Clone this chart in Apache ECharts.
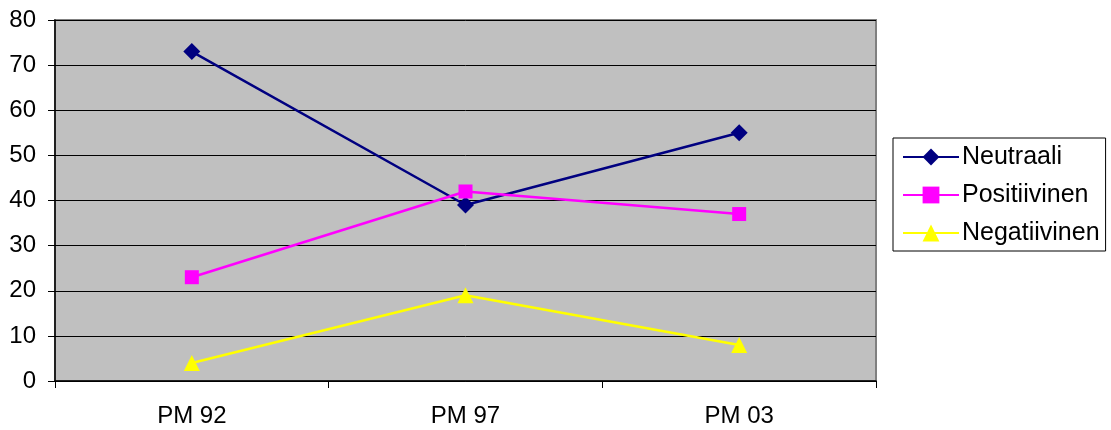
<!DOCTYPE html>
<html>
<head>
<meta charset="utf-8">
<script src="https://cdn.jsdelivr.net/npm/echarts@6/dist/echarts.min.js"></script>
<style>
  html, body { margin: 0; padding: 0; background: #fff; }
  #chart { width: 1111px; height: 430px; }
</style>
</head>
<body>
<div id="chart"></div>
<script>
// Survey periods on the x axis
const categories = ['PM 92', 'PM 97', 'PM 03'];
// Share of each tone per period
const neutraali = [73, 39, 55];
const positiivinen = [23, 42, 37];
const negatiivinen = [4, 19, 8];

const font = 'Arial, "Liberation Sans", sans-serif';

const chart = echarts.init(document.getElementById('chart'), null, { renderer: 'canvas' });

function lineSeries(name, data, color, symbol, size) {
  return {
    name: name,
    type: 'line',
    data: data,
    symbol: symbol,
    symbolSize: size,
    lineStyle: { color: color, width: 2.5 },
    itemStyle: { color: color },
    emphasis: { disabled: true },
    animation: false
  };
}

chart.setOption({
  animation: false,
  backgroundColor: '#ffffff',
  grid: {
    left: 55, top: 20, right: 235, bottom: 49,
    show: true,
    backgroundColor: '#c0c0c0',
    borderColor: '#808080',
    borderWidth: 2
  },
  xAxis: {
    type: 'category',
    data: categories,
    boundaryGap: true,
    axisLine: { lineStyle: { color: '#000', width: 1.5 } },
    axisTick: { show: true, length: 7, lineStyle: { color: '#000' } },
    axisLabel: { color: '#000', fontSize: 24, fontFamily: font, margin: 23 }
  },
  yAxis: {
    type: 'value',
    min: 0, max: 80, interval: 10,
    axisLine: { show: true, lineStyle: { color: '#000', width: 1.5 } },
    axisTick: { show: true, length: 7, lineStyle: { color: '#000' } },
    axisLabel: { color: '#000', fontSize: 24, fontFamily: font, margin: 19 },
    splitLine: { show: true, lineStyle: { color: '#000', width: 1 } }
  },
  legend: {
    orient: 'vertical',
    left: 893, top: 138,
    padding: [6, 6, 5, 9],
    borderColor: '#000',
    borderWidth: 1,
    backgroundColor: '#fff',
    itemWidth: 56,
    itemHeight: 21,
    itemGap: 12,
    textStyle: { color: '#000', fontSize: 25, fontFamily: font, lineHeight: 26, padding: [0, 0, 0, -2] },
    data: ['Neutraali', 'Positiivinen', 'Negatiivinen']
  },
  series: [
    lineSeries('Neutraali', neutraali, '#000080', 'diamond', 17),
    lineSeries('Positiivinen', positiivinen, '#ff00ff', 'rect', 14),
    lineSeries('Negatiivinen', negatiivinen, '#ffff00', 'triangle', 16)
  ]
});
</script>
</body>
</html>
